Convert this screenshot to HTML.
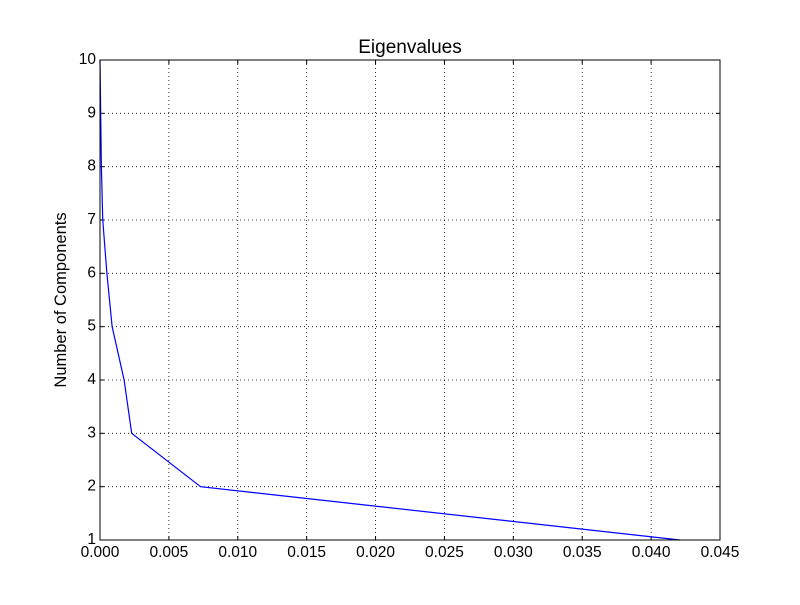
<!DOCTYPE html>
<html><head><meta charset="utf-8"><style>
body{margin:0;background:#fff;}
svg text{font-family:"Liberation Sans",sans-serif;}
</style></head><body>
<svg id="c" width="800" height="600" xmlns="http://www.w3.org/2000/svg"></svg>
<script>
const components = [1,2,3,4,5,6,7,8,9,10];
const eigenvalues = [0.0421,0.0073,0.0023,0.00175,0.00088,0.0005,0.0002,0.0001,0.00005,0.0];
const xTicks = [0,0.005,0.010,0.015,0.020,0.025,0.030,0.035,0.040,0.045];
const xTickLabels = ["0.000","0.005","0.010","0.015","0.020","0.025","0.030","0.035","0.040","0.045"];
const yTicks = [1,2,3,4,5,6,7,8,9,10];

const L=100,R=720,T=60,B=540;
const sx=v=>L+(v-0)/(0.045-0)*(R-L);
const sy=v=>B-(v-1)/(10-1)*(B-T);
const svg=document.getElementById('c');
const NS='http://www.w3.org/2000/svg';
function mk(tag,attrs,parent){const e=document.createElementNS(NS,tag);for(const k in attrs)e.setAttribute(k,attrs[k]);(parent||svg).appendChild(e);return e;}

const grid=mk('g',{});


xTicks.forEach((t,i)=>{
  const x=sx(t);
  mk('line',{x1:x,x2:x,y1:T,y2:B,stroke:'#000','stroke-dasharray':'1,3','stroke-width':0.8},grid);
  mk('line',{x1:x,x2:x,y1:B,y2:B-4,stroke:'#000'});
  mk('line',{x1:x,x2:x,y1:T,y2:T+4,stroke:'#000'});
  const tx=mk('text',{x:x,y:B+17,'font-size':15.5,'text-anchor':'middle'});
  tx.textContent=xTickLabels[i];
  
  
});
yTicks.forEach(t=>{
  const y=sy(t);
  mk('line',{x1:L,x2:R,y1:y,y2:y,stroke:'#000','stroke-dasharray':'1,3','stroke-width':0.8},grid);
  mk('line',{x1:L,x2:L+4,y1:y,y2:y,stroke:'#000'});
  mk('line',{x1:R,x2:R-4,y1:y,y2:y,stroke:'#000'});
  const tx=mk('text',{x:L-4,y:y+4,'font-size':15.5,'text-anchor':'end'});
  tx.textContent=String(t);
  
  
});
const line=mk('polyline',{points:components.map((c,i)=>sx(eigenvalues[i])+','+sy(c)).join(' '),fill:'none',stroke:'#0000ff','stroke-width':1.2});


const frame=mk('rect',{x:L,y:T,width:R-L,height:B-T,fill:'none',stroke:'#000','stroke-width':1});


const title=mk('text',{x:410,y:53,'font-size':19,'text-anchor':'middle'});
title.textContent='Eigenvalues';


const yl=mk('text',{x:0,y:0,'font-size':16.5,'text-anchor':'middle',transform:'translate(66,300) rotate(-90)'});
yl.textContent='Number of Components';


</script>
</body></html>
